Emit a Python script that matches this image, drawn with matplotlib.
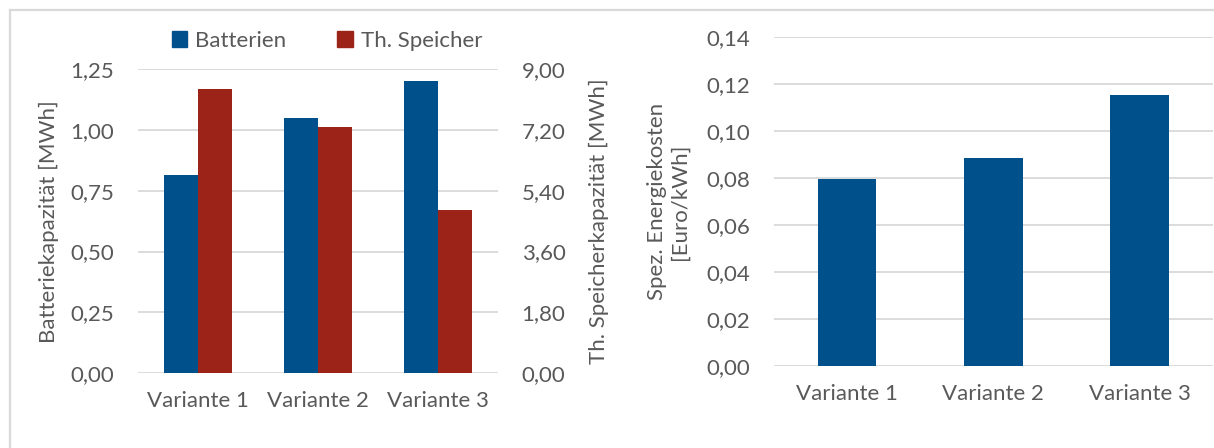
import matplotlib
matplotlib.use("Agg")
import matplotlib.pyplot as plt
from matplotlib.patches import Patch
from matplotlib.lines import Line2D
from matplotlib.ticker import FuncFormatter, MultipleLocator
import numpy as np

plt.rcParams['font.family'] = ['Lato', 'DejaVu Sans']

categories = ["Variante 1", "Variante 2", "Variante 3"]
batterien = [0.815, 1.05, 1.20]          # MWh
th_speicher = [8.42, 7.28, 4.84]         # MWh
energiekosten = [0.0795, 0.0885, 0.1155] # Euro/kWh

BLUE = "#00508C"
RED = "#9C2318"
TEXT = "#595959"
GRID = "#D9D9D9"
FS = 16

W, H = 1214, 448
fig = plt.figure(figsize=(W / 100, H / 100), dpi=100)


def comma(decimals):
    return FuncFormatter(lambda v, _: f"{v:.{decimals}f}".replace(".", ","))


def style(ax):
    for s in ax.spines.values():
        s.set_visible(False)
    ax.tick_params(length=0, colors=TEXT, labelsize=FS, pad=17)
    ax.tick_params(axis="x", pad=13)


# outer frame
fig.add_artist(Line2D([9.5 / W, 9.5 / W], [0, 1 - 10.5 / H], color=GRID, lw=1.6,
                      transform=fig.transFigure))
fig.add_artist(Line2D([9.5 / W, 1], [1 - 10.5 / H, 1 - 10.5 / H], color=GRID, lw=1.6,
                      transform=fig.transFigure))

# left chart: storage capacities on two axes
ax1 = fig.add_axes([138 / W, (H - 373.3) / H, 360 / W, 304.3 / H])
ax2 = ax1.twinx()
x = np.arange(len(categories))
bw = 0.286
ax1.bar(x - bw / 2, batterien, bw, color=BLUE, zorder=3)
ax2.bar(x + bw / 2, th_speicher, bw, color=RED, zorder=3)
ax1.set_xlim(-0.5, 2.5)
ax1.set_ylim(0, 1.25)
ax2.set_ylim(0, 9.0)
ax1.yaxis.set_major_locator(MultipleLocator(0.25))
ax2.yaxis.set_major_locator(MultipleLocator(1.8))
ax1.yaxis.set_major_formatter(comma(2))
ax2.yaxis.set_major_formatter(comma(2))
ax1.set_xticks(x, categories)
ax1.grid(axis="y", color=GRID, lw=1.3, zorder=0)
ax1.set_axisbelow(True)
for a in (ax1, ax2):
    style(a)
ax1.set_ylabel("Batteriekapazität [MWh]", color=TEXT, fontsize=FS, labelpad=8)
ax2.set_ylabel("Th. Speicherkapazität [MWh]", color=TEXT, fontsize=FS, labelpad=17)

fig.legend(handles=[Patch(color=BLUE, label="Batterien"),
                    Patch(color=RED, label="Th. Speicher")],
           loc="center", bbox_to_anchor=(327 / W, 1 - 41 / H), ncol=2, frameon=False,
           fontsize=FS, handlelength=0.7, handleheight=0.7, handletextpad=0.35,
           columnspacing=2.3, labelcolor=TEXT)

# right chart: specific energy costs
ax3 = fig.add_axes([774 / W, (H - 365.7) / H, 438.6 / W, 328.7 / H])
ax3.bar(x, energiekosten, 0.4, color=BLUE, zorder=3)
ax3.set_xlim(-0.5, 2.5)
ax3.set_ylim(0, 0.14)
ax3.yaxis.set_major_locator(MultipleLocator(0.02))
ax3.yaxis.set_major_formatter(comma(2))
ax3.set_xticks(x, categories)
ax3.grid(axis="y", color=GRID, lw=1.3, zorder=0)
ax3.set_axisbelow(True)
style(ax3)
ax3.set_ylabel("Spez. Energiekosten\n[Euro/kWh]", color=TEXT, fontsize=FS, labelpad=12,
               linespacing=1.2)

fig.savefig("out.png", dpi=100)
